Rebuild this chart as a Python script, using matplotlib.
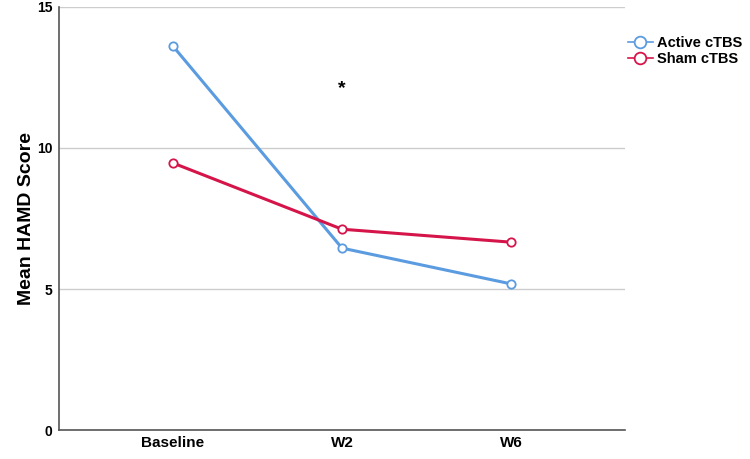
import matplotlib
matplotlib.use('Agg')
import matplotlib.pyplot as plt

timepoints = ['Baseline', 'W2', 'W6']
active = [13.62, 6.45, 5.18]
sham = [9.47, 7.12, 6.66]
star_y = 12.1

plt.rcParams['font.family'] = ['Liberation Sans', 'DejaVu Sans']

fig = plt.figure(figsize=(7.5, 4.59), dpi=100)
ax = fig.add_axes([0.079, 0.063, 0.754, 0.922])

x = list(range(len(timepoints)))
ax.plot(x, active, color='#5b9be0', lw=2.2, marker='o', ms=6,
        mfc='white', mec='#5b9be0', mew=1.3, label='Active cTBS', zorder=3)
ax.plot(x, sham, color='#d5154a', lw=2.2, marker='o', ms=6,
        mfc='white', mec='#d5154a', mew=1.3, label='Sham cTBS', zorder=3)

ax.text(1, star_y, '*', ha='center', va='center', fontsize=14, fontweight='bold')

ax.set_xlim(-0.67, 2.67)
ax.set_ylim(0, 15)
ax.set_yticks([0, 5, 10, 15])
ax.set_xticks(x)
ax.set_xticklabels(timepoints, fontsize=11, fontweight='bold')
for lab in ax.get_yticklabels():
    lab.set_fontweight('bold')
    lab.set_fontsize(10)
ax.tick_params(axis='x', length=0, pad=4)
ax.tick_params(axis='y', length=0, pad=5)
ax.yaxis.grid(True, color='#cccccc', lw=1)
ax.set_axisbelow(True)
ax.set_ylabel('Mean HAMD Score', fontsize=14, fontweight='bold', labelpad=1)

for s in ['top', 'right']:
    ax.spines[s].set_visible(False)
for s in ['left', 'bottom']:
    ax.spines[s].set_color('#555555')
    ax.spines[s].set_linewidth(1.2)

leg = ax.legend(loc='upper left', bbox_to_anchor=(0.995, 0.945), frameon=False,
                prop={'weight': 'bold', 'size': 10.5}, handlelength=1.7,
                handletextpad=0.3, labelspacing=0.15, borderaxespad=0.0,
                markerscale=1.4)
for ln in leg.get_lines():
    ln.set_linewidth(1.2)

fig.savefig('out.png', dpi=100)
